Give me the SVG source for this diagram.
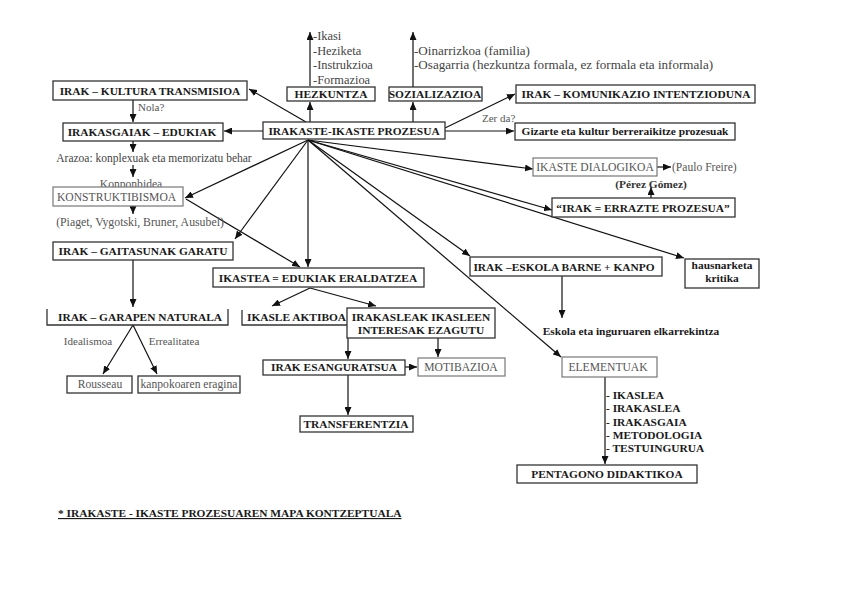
<svg xmlns="http://www.w3.org/2000/svg" width="848" height="599" viewBox="0 0 848 599">
<defs>
<marker id="ah" markerWidth="8" markerHeight="7" refX="8" refY="3.5" orient="auto" markerUnits="userSpaceOnUse">
<path d="M0,0 L8,3.5 L0,7 z" fill="#111"/>
</marker>
<style>
.bx{fill:#fff;stroke:#333;stroke-width:1.3}
.bl{fill:#fff;stroke:#777;stroke-width:1.2}
.br{fill:none;stroke:#333;stroke-width:1.3}
.b{font-family:"Liberation Serif",serif;font-weight:bold;font-size:11.4px;fill:#1a1a1a}
.g{font-family:"Liberation Serif",serif;font-size:11.6px;fill:#555}
.s{font-family:"Liberation Serif",serif;font-size:12.4px;fill:#444}
.m{text-anchor:middle}
.cn line{stroke:#111;stroke-width:1.2;marker-end:url(#ah)}
</style>
</defs>
<rect width="848" height="599" fill="#fff"/>

<g id="hezk-list">
<text class="s" x="313" y="40">-Ikasi</text>
<text class="s" x="313" y="55">-Heziketa</text>
<text class="s" x="313" y="69">-Instrukzioa</text>
<text class="s" x="313" y="84">-Formazioa</text>
</g>
<g id="soz-list">
<text class="s" x="414" y="55" style="font-size:13.1px">-Oinarrizkoa (familia)</text>
<text class="s" x="414" y="69" style="font-size:13.1px">-Osagarria (hezkuntza formala, ez formala eta informala)</text>
</g>
<text class="g m" x="131" y="188">Konponbidea</text>

<g class="cn" id="connectors">
<line x1="306" y1="122" x2="249" y2="89"/>
<line x1="310" y1="122" x2="310" y2="102"/>
<line x1="310" y1="86" x2="310" y2="32"/>
<line x1="413" y1="122" x2="413" y2="102"/>
<line x1="413" y1="87" x2="413" y2="32"/>
<line x1="445" y1="128" x2="515" y2="94"/>
<line x1="445" y1="131" x2="514" y2="131"/>
<line x1="263" y1="131" x2="224" y2="131"/>
<line x1="133" y1="100" x2="133" y2="122"/>
<line x1="133" y1="141" x2="133" y2="152"/>
<line x1="133" y1="165" x2="133" y2="177"/>
<line x1="308" y1="140" x2="185" y2="198"/>
<line x1="186" y1="199" x2="300" y2="267"/>
<line x1="133" y1="206" x2="133" y2="214"/>
<line x1="308" y1="140" x2="235" y2="239"/>
<line x1="133" y1="260" x2="133" y2="307"/>
<line x1="133" y1="325" x2="103" y2="374"/>
<line x1="133" y1="325" x2="157" y2="374"/>
<line x1="308" y1="140" x2="308" y2="267"/>
<line x1="310" y1="288" x2="272" y2="306"/>
<line x1="310" y1="288" x2="376" y2="306"/>
<line x1="348" y1="338" x2="348" y2="359"/>
<line x1="438" y1="338" x2="438" y2="357"/>
<line x1="405" y1="367" x2="417" y2="367"/>
<line x1="348" y1="375" x2="348" y2="415"/>
<line x1="308" y1="140" x2="470" y2="256"/>
<line x1="562" y1="276" x2="562" y2="318"/>
<line x1="308" y1="140" x2="561" y2="357"/>
<line x1="605" y1="377" x2="605" y2="464"/>
<line x1="308" y1="140" x2="533" y2="169"/>
<line x1="657" y1="167" x2="671" y2="167"/>
<line x1="651" y1="198" x2="651" y2="187"/>
<line x1="308" y1="140" x2="552" y2="210"/>
<line x1="308" y1="140" x2="684" y2="258"/>
</g>

<g id="central"><rect class="bx" x="263" y="122" width="182" height="17"/><text class="b m" x="354" y="135">IRAKASTE-IKASTE PROZESUA</text></g>
<g id="hezkuntza"><rect class="bx" x="287" y="87" width="88" height="14"/><text class="b m" x="331" y="98">HEZKUNTZA</text></g>
<g id="sozializazioa"><rect class="bx" x="389" y="87" width="93" height="14"/><text class="b m" x="435" y="98">SOZIALIZAZIOA</text></g>
<g id="komunikazio"><rect class="bx" x="516" y="85" width="239" height="18"/><text class="b m" x="636" y="98">IRAK – KOMUNIKAZIO INTENTZIODUNA</text></g>
<text class="g" x="482" y="122" style="font-size:11px">Zer da?</text>
<g id="gizarte"><rect class="bx" x="515" y="123" width="220" height="17"/><text class="b m" x="625" y="135">Gizarte eta kultur berreraikitze prozesuak</text></g>

<g id="kultura"><rect class="bx" x="53" y="81" width="194" height="19"/><text class="b m" x="150" y="95">IRAK – KULTURA TRANSMISIOA</text></g>
<text class="g" x="138" y="111" style="font-size:11px">Nola?</text>
<g id="irakasgaiak"><rect class="bx" x="63" y="123" width="160" height="18"/><text class="b m" x="142" y="136">IRAKASGAIAK – EDUKIAK</text></g>
<text class="s m" x="154" y="162" style="font-size:11.5px">Arazoa: konplexuak eta memorizatu behar</text>
<g id="konstruktibismoa"><rect class="bl" x="53" y="187" width="130" height="19"/><text class="g" x="57" y="201">KONSTRUKTIBISMOA</text></g>
<text class="g m" x="140" y="226" style="font-size:11.8px">(Piaget, Vygotski, Bruner, Ausubel)</text>
<g id="gaitasunak"><rect class="bx" x="53" y="242" width="180" height="18"/><text class="b m" x="143" y="255">IRAK – GAITASUNAK GARATU</text></g>
<g id="garapen"><path class="br" d="M47,309 V325 H228 V309"/><text class="b m" x="140" y="321">IRAK – GARAPEN NATURALA</text></g>
<text class="g m" x="88" y="345" style="font-size:11px">Idealismoa</text>
<text class="g m" x="174" y="345" style="font-size:11px">Errealitatea</text>
<g id="rousseau"><rect class="bx" x="67" y="376" width="65" height="17"/><text class="g m" x="100" y="388">Rousseau</text></g>
<g id="kanpokoa"><rect class="bx" x="138" y="376" width="102" height="17"/><text class="g m" x="189" y="388">kanpokoaren eragina</text></g>

<g id="ikastea"><rect class="bx" x="213" y="268" width="211" height="19"/><text class="b m" x="318" y="282">IKASTEA = EDUKIAK ERALDATZEA</text></g>
<g id="ikasle-aktiboa"><path class="br" d="M242,310 V325 H347"/><text class="b" x="247" y="321">IKASLE AKTIBOA</text></g>
<g id="irakasleak"><rect class="bx" x="347" y="308" width="148" height="30"/><text class="b m" x="421" y="321">IRAKASLEAK IKASLEEN</text><text class="b m" x="421" y="334">INTERESAK EZAGUTU</text></g>
<g id="esanguratsua"><rect class="bx" x="263" y="360" width="142" height="15"/><text class="b m" x="334" y="371">IRAK ESANGURATSUA</text></g>
<g id="motibazioa"><rect class="bl" x="418" y="358" width="87" height="18"/><text class="g m" x="461" y="371">MOTIBAZIOA</text></g>
<g id="transferentzia"><rect class="bx" x="300" y="416" width="113" height="16"/><text class="b m" x="356" y="428">TRANSFERENTZIA</text></g>

<g id="dialogikoa"><rect class="bl" x="533" y="158" width="124" height="18"/><text class="g m" x="595" y="171">IKASTE DIALOGIKOA</text></g>
<text class="g" x="672" y="171">(Paulo Freire)</text>
<text class="b m" x="651" y="188" style="fill:#333">(Pérez Gómez)</text>
<g id="errazte"><rect class="bx" x="552" y="198" width="183" height="19"/><text class="b m" x="643" y="212">“IRAK = ERRAZTE PROZESUA”</text></g>
<g id="eskola"><rect class="bx" x="470" y="257" width="192" height="19"/><text class="b m" x="564" y="271">IRAK –ESKOLA BARNE + KANPO</text></g>
<g id="hausnarketa"><rect class="bx" x="685" y="259" width="74" height="29"/><text class="b m" x="722" y="269">hausnarketa</text><text class="b m" x="722" y="282">kritika</text></g>
<text class="b m" x="631" y="335">Eskola eta inguruaren elkarrekintza</text>
<g id="elementuak"><rect class="bl" x="562" y="357" width="95" height="20"/><text class="g m" x="608" y="371">ELEMENTUAK</text></g>
<g id="elem-list">
<text class="b" x="606" y="399">- IKASLEA</text>
<text class="b" x="606" y="412">- IRAKASLEA</text>
<text class="b" x="606" y="426">- IRAKASGAIA</text>
<text class="b" x="606" y="439">- METODOLOGIA</text>
<text class="b" x="606" y="452">- TESTUINGURUA</text>
</g>
<g id="pentagono"><rect class="bx" x="517" y="465" width="180" height="18"/><text class="b m" x="607" y="478">PENTAGONO DIDAKTIKOA</text></g>

<text class="b" x="58" y="517" style="text-decoration:underline">* IRAKASTE - IKASTE PROZESUAREN MAPA KONTZEPTUALA</text>
</svg>
